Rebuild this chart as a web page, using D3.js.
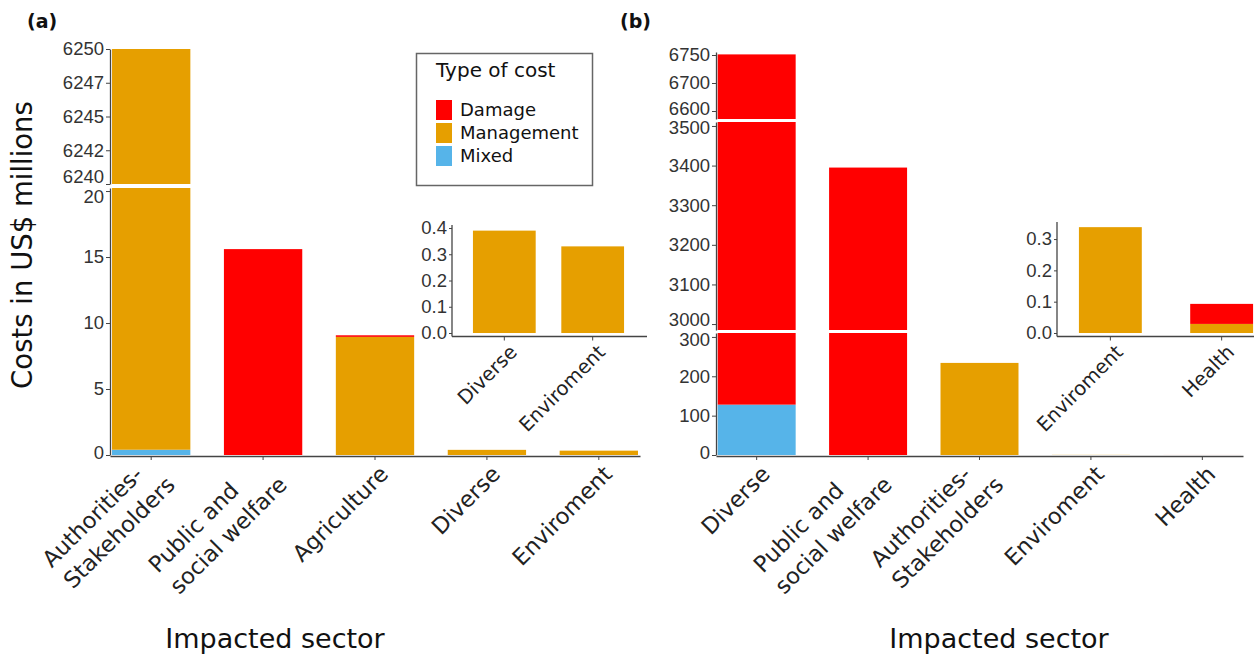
<!DOCTYPE html>
<html>
<head>
<meta charset="utf-8">
<script src="https://cdn.jsdelivr.net/npm/d3@7"></script>
<style>
  html, body { margin: 0; padding: 0; background: #fff; }
  svg { display: block; font-family: "DejaVu Sans", Verdana, sans-serif; }
  .tick text { fill: #333; }
  .domain, .tick line { stroke: #444; }
</style>
</head>
<body>
<svg id="chart" width="1257" height="658"></svg>
<script>
// ---------------- DATA ----------------
const typeKeys = ["Mixed", "Management", "Damage"];          // stacking order, bottom to top
const legendKeys = ["Damage", "Management", "Mixed"];
const typeColors = ["#56B4E9", "#E69F00", "#FF0000"];

// Panel (a)
const sectorsA = ["Authorities-\nStakeholders", "Public and\nsocial welfare", "Agriculture", "Diverse", "Enviroment"];
const damageA = [0, 15.6, 0.12, 0, 0];
const managementA = [6249.6, 0, 8.95, 0.39, 0.33];
const mixedA = [0.4, 0, 0, 0, 0];

// Panel (b)
const sectorsB = ["Diverse", "Public and\nsocial welfare", "Authorities-\nStakeholders", "Enviroment", "Health"];
const damageB = [6624, 3395, 0, 0, 0.064];
const managementB = [0, 0, 234, 0.338, 0.029];
const mixedB = [128, 0, 0, 0, 0];

// Insets
const insetSectorsA = ["Diverse", "Enviroment"];
const insetSectorsB = ["Enviroment", "Health"];

// Tick values / labels
const ticksA_low = [0, 5, 10, 15, 20];
const ticksA_high = [6240, 6242.5, 6245, 6247.5, 6250];
const labelsA_high = ["6240", "6242", "6245", "6247", "6250"];
const ticksB_low = [0, 100, 200, 300];
const ticksB_mid = [3000, 3100, 3200, 3300, 3400, 3500];
const ticksB_high = [6600, 6700, 6750];
const insetTicksA = [0, 0.1, 0.2, 0.3, 0.4];
const insetTicksB = [0, 0.1, 0.2, 0.3];

// ---------------- HELPERS ----------------
const svg = d3.select("#chart");
const color = d3.scaleOrdinal().domain(typeKeys).range(typeColors);

function rows(sectors, dmg, mgt, mix) {
  return sectors.map((s, i) => ({ sector: s, Damage: dmg[i], Management: mgt[i], Mixed: mix[i] }));
}
const stacker = d3.stack().keys(typeKeys);

function rotLabel(g, x, y, text, fs, lh) {
  const lines = text.split("\n");
  const n = lines.length;
  const t = g.append("text")
    .attr("transform", `translate(${x},${y}) rotate(-45)`)
    .style("font-size", fs + "px").attr("fill", "#222");
  const spans = lines.map((l, i) => t.append("tspan")
    .attr("y", (i - (n - 1) / 2) * lh).attr("dy", "0.35em").text(l));
  const maxW = d3.max(spans, s => s.node().getComputedTextLength());
  spans.forEach(s => s.attr("x", -maxW));
}

function drawBars(g, stacked, x, segments) {
  stacked.forEach(layer => {
    layer.forEach(d => {
      if (d[1] - d[0] <= 0) return;
      segments.forEach(seg => {
        const dd = seg.scale.domain();
        const lo = Math.max(d[0], dd[0]);
        const hi = Math.min(d[1], dd[dd.length - 1]);
        if (hi <= lo) return;
        g.append("rect")
          .attr("x", x(d.data.sector))
          .attr("width", x.bandwidth())
          .attr("y", seg.scale(hi))
          .attr("height", seg.scale(lo) - seg.scale(hi))
          .attr("fill", color(layer.key));
      });
    });
  });
}

function drawPanel(opts) {
  const g = svg.append("g");
  const data = rows(opts.sectors, opts.dmg, opts.mgt, opts.mix);
  const stacked = stacker(data);
  const x = d3.scaleBand().domain(opts.sectors).range(opts.xRange)
    .paddingInner(opts.pi).paddingOuter(opts.po);
  drawBars(g, stacked, x, opts.segments);

  // y axes (one per segment)
  opts.segments.forEach(seg => {
    const ax = d3.axisLeft(seg.scale).tickValues(seg.ticks).tickSize(4).tickPadding(2).tickSizeOuter(0);
    if (seg.labels) ax.tickFormat((d, i) => seg.labels[i]);
    else ax.tickFormat(d3.format("d"));
    const ag = g.append("g").attr("transform", `translate(${opts.xRange[0]},0)`).call(ax);
    ag.selectAll(".tick text").style("font-size", opts.tickFs + "px")
      .attr("dy", (d, i) => (0.32 * opts.tickFs + (seg.nudge && seg.nudge[i] ? seg.nudge[i] : 0)) + "px");
    ag.select(".domain").attr("stroke-width", 1.3);
  });

  // x axis
  const xa = d3.axisBottom(x).tickSize(4).tickSizeOuter(0).tickFormat("");
  const xg = g.append("g").attr("transform", `translate(0,${opts.axisY})`).call(xa);
  xg.select(".domain").attr("stroke-width", 1.3);
  opts.sectors.forEach(s => {
    rotLabel(g, x(s) + x.bandwidth() / 2 + opts.lblDx, opts.axisY + opts.lblDy, s, opts.lblFs, opts.lblLh);
  });
  return x;
}

// ---------------- PANEL (a) ----------------
const yA_low = d3.scaleLinear().domain([0, 20.23]).range([455, 188]);
const yA_high = d3.scaleLinear().domain([6240, 6250]).range([184, 49]);
drawPanel({
  sectors: sectorsA, dmg: damageA, mgt: managementA, mix: mixedA,
  xRange: [110, 640], pi: 0.3, po: 0.018, axisY: 456,
  segments: [
    { scale: yA_low, ticks: ticksA_low, nudge: [-2, 0, 0, 0, 6] },
    { scale: yA_high, ticks: ticksA_high, labels: labelsA_high, nudge: [-7, 0, 0, 0, 0] }
  ],
  tickFs: 18.5, lblDx: 9, lblDy: 14, lblFs: 22.5, lblLh: 30
});

// ---------------- PANEL (b) ----------------
const yB_low = d3.scaleLinear().domain([0, 310]).range([455, 333]);
const yB_mid = d3.scaleLinear().domain([2985, 3510]).range([330, 122]);
const yB_high = d3.scaleLinear().domain([6580, 6600, 6700, 6750, 6760]).range([119, 111, 83, 55, 52]);
drawPanel({
  sectors: sectorsB, dmg: damageB, mgt: managementB, mix: mixedB,
  xRange: [716, 1243], pi: 0.3, po: 0.015, axisY: 456,
  segments: [
    { scale: yB_low, ticks: ticksB_low, nudge: [-2, 0, 0, 3] },
    { scale: yB_mid, ticks: ticksB_mid, nudge: [-4, 0, 0, 0, 0, 2] },
    { scale: yB_high, ticks: ticksB_high, nudge: [-2, 0, 0] }
  ],
  tickFs: 18.5, lblDx: 9, lblDy: 14, lblFs: 22.5, lblLh: 30
});

// ---------------- INSETS ----------------
function drawInset(opts) {
  const g = svg.append("g");
  const idx = opts.sectors.map(s => opts.allSectors.indexOf(s));
  const data = opts.sectors.map((s, k) => ({
    sector: s, Damage: opts.dmg[idx[k]], Management: opts.mgt[idx[k]], Mixed: opts.mix[idx[k]]
  }));
  const stacked = stacker(data);
  const x = d3.scaleBand().domain(opts.sectors).range(opts.xRange).paddingInner(opts.pi).paddingOuter(opts.po);
  const y = d3.scaleLinear().domain(opts.yDomain).range(opts.yRange);
  drawBars(g, stacked, x, [{ scale: y }]);
  const ya = d3.axisLeft(y).tickValues(opts.ticks).tickFormat(d3.format(".1f")).tickSize(3).tickPadding(2).tickSizeOuter(0);
  const yg = g.append("g").attr("transform", `translate(${opts.xRange[0]},0)`).call(ya);
  yg.selectAll(".tick text").style("font-size", "18.5px");
  yg.select(".domain").attr("stroke-width", 1.3).attr("d", `M0,${opts.axisY}V${opts.yTop}`);
  const xa = d3.axisBottom(x).tickSize(4).tickSizeOuter(0).tickFormat("");
  const xg = g.append("g").attr("transform", `translate(0,${opts.axisY})`).call(xa);
  xg.select(".domain").attr("stroke-width", 1.3).attr("d", `M${opts.xRange[0]},0H${opts.xEnd}`);
  opts.sectors.forEach(s => rotLabel(g, x(s) + x.bandwidth() / 2 + 9, opts.axisY + 12, s, 19.5, 26));
}

drawInset({
  sectors: insetSectorsA, allSectors: sectorsA, dmg: damageA, mgt: managementA, mix: mixedA,
  xRange: [452, 645], xEnd: 647, pi: 0.29, po: 0.237,
  yDomain: [0, 0.42], yRange: [333, 222.75], yTop: 225, axisY: 336.5, ticks: insetTicksA
});
drawInset({
  sectors: insetSectorsB, allSectors: sectorsB, dmg: damageB, mgt: managementB, mix: mixedB,
  xRange: [1057, 1275], xEnd: 1254, pi: 0.435, po: 0.197,
  yDomain: [0, 0.35], yRange: [333, 223.4], yTop: 222, axisY: 336.5, ticks: insetTicksB
});

// ---------------- TEXTS ----------------
svg.append("text").attr("x", 27).attr("y", 28).style("font-size", "19px").style("font-weight", "bold").attr("fill", "#111").text("(a)");
svg.append("text").attr("x", 620).attr("y", 28).style("font-size", "19px").style("font-weight", "bold").attr("fill", "#111").text("(b)");

svg.append("text").attr("transform", "translate(32,245) rotate(-90)")
  .attr("text-anchor", "middle").style("font-size", "27.5px").attr("fill", "#111")
  .text("Costs in US$ millions");

svg.append("text").attr("x", 275).attr("y", 648).attr("text-anchor", "middle")
  .style("font-size", "27px").attr("fill", "#111").text("Impacted sector");
svg.append("text").attr("x", 999).attr("y", 648).attr("text-anchor", "middle")
  .style("font-size", "27px").attr("fill", "#111").text("Impacted sector");

// ---------------- LEGEND ----------------
const lg = svg.append("g");
lg.append("rect").attr("x", 416.5).attr("y", 53.5).attr("width", 176).attr("height", 132)
  .attr("fill", "#fff").attr("stroke", "#666").attr("stroke-width", 1.5);
lg.append("text").attr("x", 436).attr("y", 77).style("font-size", "20px").attr("fill", "#111").text("Type of cost");
legendKeys.forEach((k, i) => {
  lg.append("rect").attr("x", 436).attr("y", 100 + i * 23).attr("width", 16).attr("height", 20).attr("fill", color(k));
  lg.append("text").attr("x", 460).attr("y", 110 + i * 23).attr("dy", "0.35em")
    .style("font-size", "18px").attr("fill", "#111").text(k);
});
</script>
</body>
</html>
